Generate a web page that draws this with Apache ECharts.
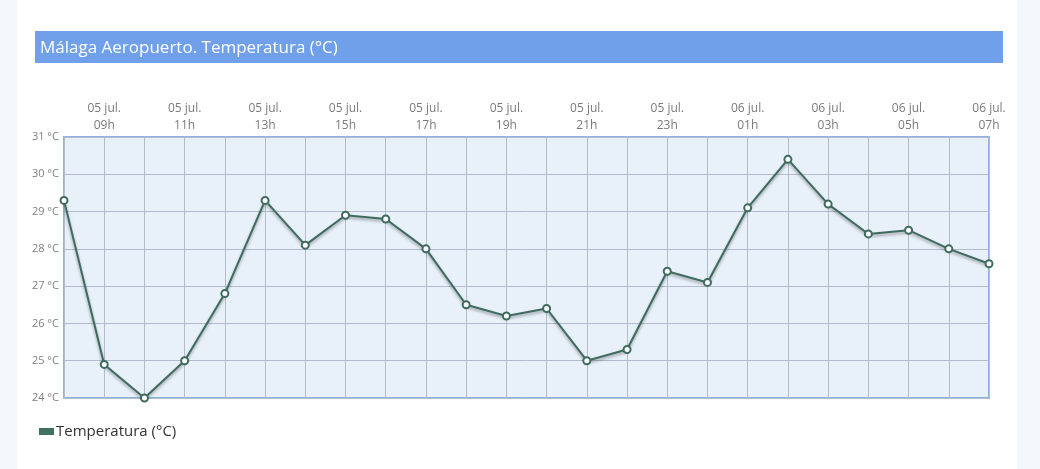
<!DOCTYPE html>
<html>
<head>
<meta charset="utf-8">
<script src="https://cdn.jsdelivr.net/npm/echarts@6/dist/echarts.min.js"></script>
<style>
  html, body { margin: 0; padding: 0; background: #f3f8fc; }
  #chart { width: 1040px; height: 469px; }
</style>
</head>
<body>
<div id="chart"></div>
<script>
const days = ['05 jul.','05 jul.','05 jul.','05 jul.','05 jul.','05 jul.','05 jul.','05 jul.','05 jul.','05 jul.','05 jul.','05 jul.','05 jul.','05 jul.','05 jul.','05 jul.','06 jul.','06 jul.','06 jul.','06 jul.','06 jul.','06 jul.','06 jul.','06 jul.'];
const hours = ['08h','09h','10h','11h','12h','13h','14h','15h','16h','17h','18h','19h','20h','21h','22h','23h','00h','01h','02h','03h','04h','05h','06h','07h'];
const temperature = [29.3, 24.9, 24.0, 25.0, 26.8, 29.3, 28.1, 28.9, 28.8, 28.0, 26.5, 26.2, 26.4, 25.0, 25.3, 27.4, 27.1, 29.1, 30.4, 29.2, 28.4, 28.5, 28.0, 27.6];
const yTicks = [24, 25, 26, 27, 28, 29, 30, 31];
const titleText = 'Málaga Aeropuerto. Temperatura (°C)';
const seriesName = 'Temperatura (°C)';

const categories = days.map((d, i) => d + '\n' + hours[i]);

const chart = echarts.init(document.getElementById('chart'), null, { renderer: 'canvas' });
chart.setOption({
  animation: false,
  backgroundColor: 'transparent',
  textStyle: { fontFamily: 'Open Sans' },
  graphic: [
    { type: 'rect', z: -10, shape: { x: 17, y: 0, width: 1000, height: 469 }, style: { fill: '#ffffff' }, silent: true },
    { type: 'rect', z: 0, shape: { x: 35, y: 31, width: 968, height: 32 }, style: { fill: '#70a0ea' }, silent: true },
    { type: 'text', z: 1, x: 40, y: 48, style: { text: titleText, fill: '#ffffff', font: '17px "Open Sans"', verticalAlign: 'middle' }, silent: true }
  ],
  legend: {
    left: 34, top: 419,
    icon: 'rect', itemWidth: 15, itemHeight: 7, itemGap: 4,
    itemStyle: { color: '#3f7060', borderWidth: 0 },
    textStyle: { fontSize: 15, color: '#333', fontFamily: 'Open Sans', padding: [0, 0, 0, -3] },
    data: [seriesName]
  },
  grid: {
    left: 64, right: 51, top: 137, bottom: 71,
    show: true, backgroundColor: '#e8f0fa', borderColor: '#8fb1e3', borderWidth: 2
  },
  xAxis: {
    type: 'category',
    position: 'top',
    boundaryGap: false,
    data: categories,
    axisLine: { show: false },
    axisTick: { show: false },
    axisLabel: {
      interval: (i) => i % 2 === 1,
      color: '#7a7a7a', fontSize: 12, lineHeight: 17, margin: 3,
      fontFamily: 'Open Sans'
    },
    splitLine: { show: true, interval: 0, lineStyle: { color: '#b2bccd', width: 1 } }
  },
  yAxis: {
    type: 'value',
    min: yTicks[0], max: yTicks[yTicks.length - 1], interval: 1,
    axisLine: { show: false },
    axisTick: { show: false },
    axisLabel: { formatter: '{value} °C', color: '#808080', fontSize: 11, margin: 5, fontFamily: 'Open Sans' },
    splitLine: { show: true, lineStyle: { color: '#b2bccd', width: 1 } }
  },
  series: [{
    name: seriesName,
    type: 'line',
    data: temperature,
    symbol: 'circle',
    symbolSize: 7,
    color: '#3f7060',
    lineStyle: { color: '#3f6b5e', width: 2, shadowColor: 'rgba(0,0,0,0.35)', shadowBlur: 3, shadowOffsetY: 2 },
    itemStyle: { color: '#ffffff', borderColor: '#3f6b5e', borderWidth: 2 },
    clip: false
  }]
});
</script>
</body>
</html>
